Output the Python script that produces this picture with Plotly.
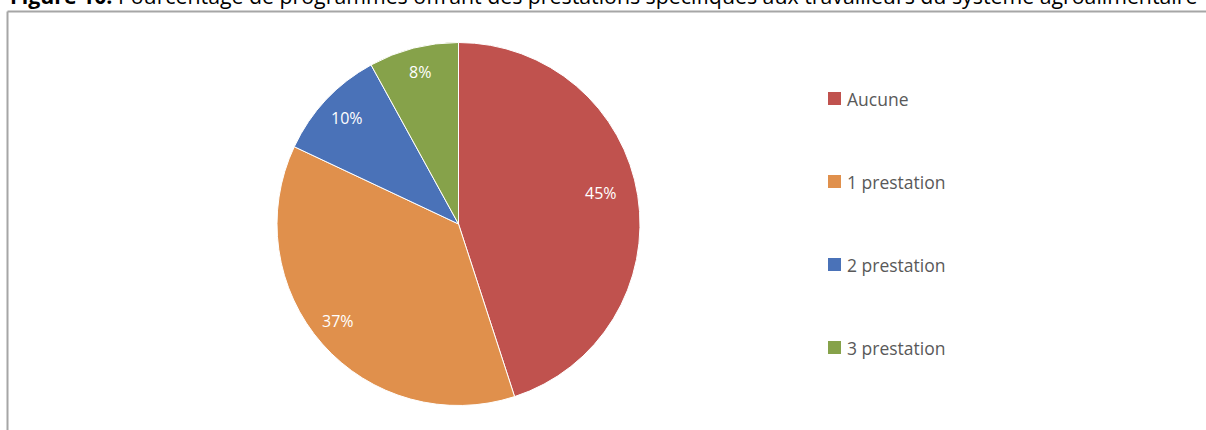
import math
import plotly.graph_objects as go

categories = ["Aucune", "1 prestation", "2 prestation", "3 prestation"]
values = [45, 37, 10, 8]
colors = ["#C0524E", "#E0904C", "#4A72B8", "#86A24A"]
title_bold = "Figure 10."
title_rest = " Pourcentage de programmes offrant des prestations spécifiques aux travailleurs du système agroalimentaire"

W, H = 1206, 430
FONT = "Open Sans"

# pie geometry (pixels)
CX, CY, R = 458.5, 224.0, 181.5
# label placement style: (radius fraction, angular nudge in degrees) per slice, Excel "best fit"-like
LABEL_STYLE = [(0.80, -2.7), (0.855, 2.2), (0.84, 0.0), (0.855, 0.0)]

fig = go.Figure()
fig.add_trace(go.Pie(
    labels=categories,
    values=values,
    sort=False,
    direction="clockwise",
    rotation=0,
    marker=dict(colors=colors, line=dict(color="white", width=1)),
    textinfo="none",
    domain=dict(x=[(CX - R) / W, (CX + R) / W], y=[1 - (CY + R) / H, 1 - (CY - R) / H]),
    showlegend=False,
    hoverinfo="label+percent",
))

shapes = [
    dict(type="line", xref="paper", yref="paper", x0=7.5 / W, x1=7.5 / W, y0=-0.01, y1=1 - 11.5 / H,
         line=dict(color="#A6A6A6", width=2)),
    dict(type="line", xref="paper", yref="paper", x0=7.5 / W, x1=1.01, y0=1 - 11.5 / H, y1=1 - 11.5 / H,
         line=dict(color="#A6A6A6", width=2)),
]
annotations = [
    dict(xref="paper", yref="paper", x=9 / W, y=1 - 11 / H, xanchor="left", yanchor="bottom",
         text="<b>" + title_bold + "</b>" + title_rest, showarrow=False,
         font=dict(family=FONT, size=21.3, color="black"), borderpad=0),
]

# percentage labels placed around slice mid-angles
total = sum(values)
cum = 0
for v, (rf, nudge) in zip(values, LABEL_STYLE):
    mid = (cum + v / 2) / total * 2 * math.pi + math.radians(nudge)
    cum += v
    px = CX + rf * R * math.sin(mid)
    py = CY - rf * R * math.cos(mid)
    annotations.append(dict(xref="paper", yref="paper", x=px / W, y=1 - py / H,
                            xanchor="center", yanchor="middle", yshift=1.5,
                            text=f"{round(v / total * 100)}%", showarrow=False,
                            font=dict(family=FONT, size=16, color="white")))

legend_x = 828
legend_y0 = 98.5
legend_step = 83
for i, (cat, col) in enumerate(zip(categories, colors)):
    yc = legend_y0 + i * legend_step
    shapes.append(dict(type="rect", xref="paper", yref="paper",
                       x0=legend_x / W, x1=(legend_x + 13) / W,
                       y0=1 - (yc + 6.5) / H, y1=1 - (yc - 6.5) / H,
                       fillcolor=col, line=dict(width=0)))
    annotations.append(dict(xref="paper", yref="paper", x=(legend_x + 17) / W, y=1 - yc / H,
                            xanchor="left", yanchor="middle", text=cat, showarrow=False,
                            font=dict(family=FONT, size=17.5, color="#595959")))

fig.update_layout(
    width=W, height=H,
    margin=dict(l=0, r=0, t=0, b=0),
    paper_bgcolor="white",
    plot_bgcolor="white",
    shapes=shapes,
    annotations=annotations,
)

fig.write_html("out.html", config={"displayModeBar": False},
               post_script="document.body.style.margin='0';")
